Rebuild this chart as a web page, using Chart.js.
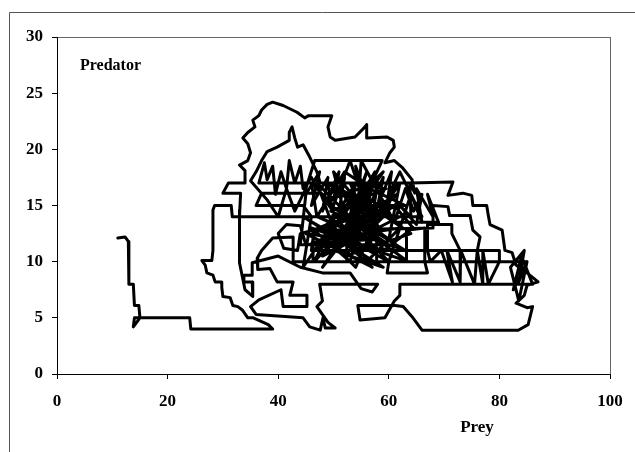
<!DOCTYPE html>
<html>
<head>
<meta charset="utf-8">
<script src="https://cdn.jsdelivr.net/npm/chart.js@4/dist/chart.umd.min.js"></script>
<style>
  body { margin: 0; background: #fff; }
  canvas { display: block; }
</style>
</head>
<body>
<canvas id="chart" width="635" height="452"></canvas>
<script>
// prey / predator trajectory
const tailPath = [[11,12.1],[12.3,12.2],[12.9,11.8],[13,8],[13.8,8],[14,6.1],[14.8,6.1],[15,5],[13.8,4.2],[14,5],[16,5],[24,5],[24.2,4],[39,4],[38.2,4.4]];

const outerPath = [[35.5,5],[34.5,5],[33.5,5.7],[32.7,6],[31.8,6.1],[31.3,6.8],[30,6.9],[29.8,7.7],[29.8,8.2],[28.6,8.2],[28.2,8.8],[27.1,9],[26.8,9.7],[26.2,10.1],[28,10.1],[28.2,11],[28.2,14.6],[28.5,15],[31.5,15],[31.7,14],[33,14],[33.2,16.1],[30,16.1],[31,17],[34,17],[34,18.1],[33,18.6],[34.5,19],[35,19.7],[34.5,20.5],[33.6,21],[34.5,21.5],[35.8,22],[35.4,22.6],[36.5,23],[37,23.5],[38,24],[39,24.2],[40.9,23.9],[43.4,23.3],[44.8,22.8],[45.5,23],[49.7,23],[49,22],[49.4,21.1],[50.3,20.8],[53.9,21.1],[55.7,22],[56,22.2],[56,21],[59.7,21.1],[60.8,20.8],[61,20.2],[60.2,19.7],[59.3,18.8],[61,19],[62.4,18.4],[64.2,17.3],[64.7,16.1],[63.8,17],
  [71.6,17.1],[70.7,15.9],[73.4,16.1],[75,15.9],[75.2,15],[77.7,15],[78,14.1],[78.3,13.3],[80.5,12.8],[81,11],[82.3,10.8],[83,9.7],[85,9],[87,8.2],[85,7.9],[84.5,7],[83,6.3],[85,5.9],[86,6],[85.2,4.4],[83.4,3.9],[66,3.9],[64.2,5.1],[62.6,6],[61.1,6.1],[54.4,6.1],[54.8,4.8],[59.3,5],[61,6.5],[62,7],[62,8]];

const hatchPath = [[86,8],[84,10.5],[82.5,7.5],[85,10],[83.5,6.5],[82,9.5],[84.5,11],[83.5,8.2],[85,10],[80,10],[78,8],[77,11],[77,8],[76,11],[75.5,8],[73,11],[72.9,8.2],[70.5,11],[71.5,8.2],[69.5,11],[67.5,10],[67,11],[67,13.3],[71.4,13.3],[71.4,12.5],[72.9,11],[76,11],[76.5,12.2],[75.2,12.8],[74.7,14.1],[71,14.1],[70.7,14.9],[68,15],[68,13]];

const lowerCorePath = [[46.5,12.8],[46,11],[80,11],[80,10],[42.7,10],[42.7,12.2],[39,12.1],[37,11],[36.2,10.3],[36.3,9.3],[38.5,9.4],[39.8,8.2],[42.7,8.2],[42.1,7],[45.2,7],[45.2,6],[40.9,6],[40.5,7.5],[36.5,6.6],[35,6],[36,5.3],[44.5,5],[45.7,4.2],[47.6,3.9],[48.1,5],[48.5,4.1],[50.3,4.1],[49,4.6],[47,6],[48,6.5],[47.5,8],[58,8],[57,7.3],[55,7.6],[53,9],[48,9],[44,9.5],[40,10.5],[35.3,9.9],[35.3,8.8],[33.8,8.8],[33.8,8.2],[35.3,8.2],[35.4,6.9],[34,7.5],[33,9.9],[33,14.6],[33,14],[46,14],[44.5,15],[36,15],[37,16.1],[47.6,16.1]];

const upperCorePath = [[46,17.5],[44.5,16.5],[44,18.5],[43,17],[42,19],[41.5,16.5],[40.5,18],[39.5,16],[39,18.5],[38,17.3],[37.5,18.8],[36.5,17],[47.6,17],[47,18],[45.5,19.5],[44.5,20.4],[43.5,20.2],[43,21],[42.5,22],[42,21.5],[42,20.8],[39.8,20.2],[38,19.8],[37,19],[36,18],[35,17.2],[38,15.5],[40,14],[41.5,16.5],[43,14.5],[45,16.5],[46.6,19]];

const starPath = [[58.8,19],[55,15],[50,18],[53,12.5],[57,17.5],[51.5,14],[58.5,12.5],[54,18.5],[56,13],[49.5,14.5],[59.5,16.5],[53,17],[57.5,12],[51,16.5],[60.5,14],[55,19],[54,11.5],[48.5,15.5],[58,17],[56,11],[52,13],[61.5,16],[55,13],[47,17],[50,13],[53.5,16],[62.5,13],[57,15.5],[50.5,12],[59,18],[52.5,15],[63,15],[56.5,16.5],[48,13],[54.5,14],[60,12],[62,17],[58,14],[49,17],[51,11],[55,16],[57,13.5],[61,15],[64.4,13],[59,11],[56,14.5],[53,19],[50,15],[46,17],[47,14],[52,18],[55,17],[46.6,17],[63.8,17],[64,14],[60,16],[62,18],[66,14],[46,14]];

const lowStarPath = [[44.5,9.5],[50,13.5],[46.5,10],[54,14],[48,9.5],[52,12],[45,12.5],[57,9.5],[49,13],[60,10],[53,13.5],[47,11],[58,14],[54,9.5],[49,12],[62,13],[56,10],[51.5,14.5],[63,11],[54,12.5],[47,14],[57,12],[45.5,11.5],[60,14.5],[52,10.5],[64,12.5],[55,11],[44.5,14],[59,9.5],[50,11],[62,14],[48,10.5],[56,15.5],[53,10],[46,13],[63.5,10],[49.5,15],[60,11.5],[44,11.5]];

const highStarPath = [[45,16],[47.5,18],[46,15],[49,17.5],[48,14.5],[51,18],[50,15.5],[52,17.5],[51,14.5],[54,17],[53,14],[56,18],[54.5,15.5],[57.5,18],[56,14.5],[59,17.5],[58,15],[60.5,18],[59.5,14.5],[61.5,17],[60,15.5]];

const gridPath = [[46.3,12.8],[46.3,10],[52.4,10],[52.4,12.8],[55,12.9],[57,12.2],[56.5,11.3],[54,11.2],[52.5,11.8],[57.8,13],[57.8,10],[63.2,10],[63.2,12.8],[66.5,13],[66.5,10],[67,9],[59.7,9],[60,10],[64,16],[66,13.5],[65,16.5],[68,14],[67,16],[69,13.5],
  [61,13.5],[63,16.5],[64.5,14.5],[66,16],[65,13.3],[62,15],[44,12.5],[43.5,11],[41,11.2],[40,12.5],[41.5,13.3],[44,13.2],[45,11.5]];

const xTicks = [0, 20, 40, 60, 80, 100];
const yTicks = [0, 5, 10, 15, 20, 25, 30];
const xLabel = "Prey";
const yLabel = "Predator";

const points = [tailPath, outerPath, hatchPath, lowerCorePath, upperCorePath, starPath, lowStarPath, highStarPath, gridPath]
  .flat()
  .map(([x, y]) => ({ x, y }));

const serif = "'Liberation Serif', 'Times New Roman', serif";

const framePlugin = {
  id: "frame",
  beforeDraw(chart) {
    const { ctx, chartArea: a } = chart;
    ctx.save();
    ctx.fillStyle = "#fff";
    ctx.fillRect(0, 0, chart.width, chart.height);
    // outer chart frame (runs off the right and bottom edges)
    ctx.strokeStyle = "#555";
    ctx.lineWidth = 1;
    ctx.beginPath();
    ctx.moveTo(9.5, chart.height);
    ctx.lineTo(9.5, 12.5);
    ctx.lineTo(chart.width, 12.5);
    ctx.stroke();
    // plot area box
    ctx.strokeStyle = "#666";
    ctx.strokeRect(a.left + 0.5, a.top + 0.5, a.right - a.left, a.bottom - a.top);
    ctx.restore();
  },
  afterDraw(chart) {
    const { ctx } = chart;
    ctx.save();
    ctx.fillStyle = "#000";
    ctx.textBaseline = "middle";
    ctx.textAlign = "left";
    ctx.font = "bold 16px " + serif;
    ctx.fillText(yLabel, 80, 66);
    ctx.textAlign = "center";
    ctx.font = "bold 17px " + serif;
    ctx.fillText(xLabel, 477, 428);
    ctx.restore();
  }
};

new Chart(document.getElementById("chart"), {
  type: "scatter",
  data: {
    datasets: [{
      data: points,
      showLine: true,
      borderColor: "#000",
      borderWidth: 3,
      borderJoinStyle: "round",
      borderCapStyle: "round",
      pointRadius: 0,
      tension: 0,
      fill: false
    }]
  },
  options: {
    responsive: false,
    animation: false,
    layout: { padding: { left: 0, right: 25, top: 37, bottom: 0 } },
    plugins: { legend: { display: false }, tooltip: { enabled: false } },
    scales: {
      x: {
        type: "linear",
        min: 0,
        max: 100,
        afterBuildTicks: (s) => { s.ticks = xTicks.map((v) => ({ value: v })); },
        afterFit: (s) => { s.height = 78; },
        ticks: { color: "#000", padding: 12, maxRotation: 0, font: { family: serif, size: 17, weight: "bold" } },
        grid: { drawOnChartArea: false, tickLength: 5, color: "#000" },
        border: { color: "#000", width: 1 }
      },
      y: {
        type: "linear",
        min: 0,
        max: 30,
        afterBuildTicks: (s) => { s.ticks = yTicks.map((v) => ({ value: v })); },
        afterFit: (s) => { s.width = 57; },
        ticks: { color: "#000", padding: 9, font: { family: serif, size: 17, weight: "bold" } },
        grid: { drawOnChartArea: false, tickLength: 5, color: "#000" },
        border: { color: "#000", width: 1 }
      }
    }
  },
  plugins: [framePlugin]
});
</script>
</body>
</html>
